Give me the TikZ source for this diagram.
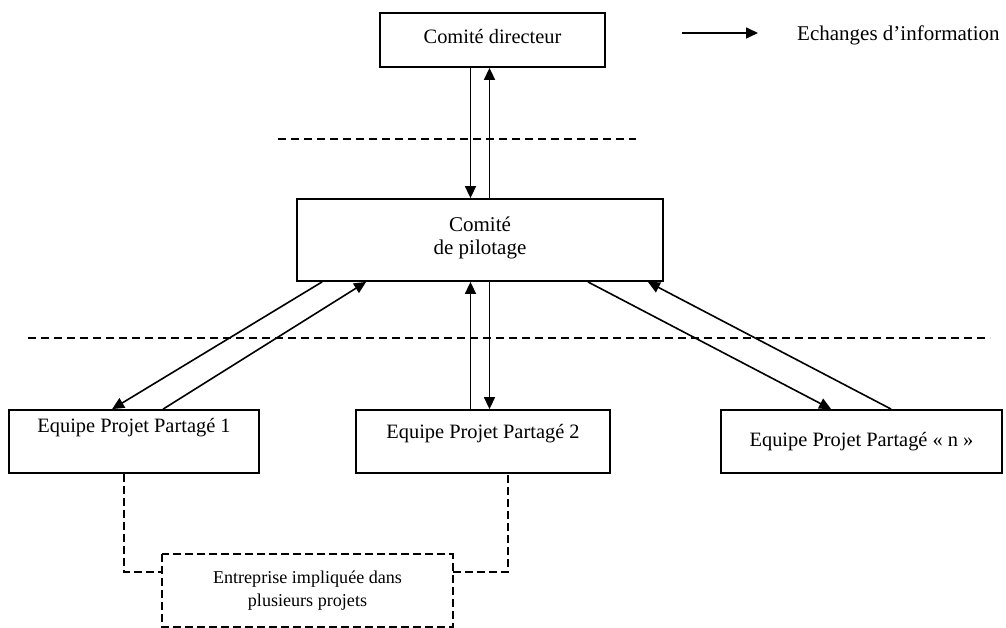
\documentclass[tikz,border=0pt]{standalone}
\usepackage{fontspec}
\setmainfont{Liberation Serif}
\usetikzlibrary{arrows.meta}
\begin{document}
\begin{tikzpicture}[
  x=1pt, y=-1pt,
  box/.style={draw, line width=1.8pt, inner sep=0pt, align=center, font=\fontsize{20.4}{24}\selectfont},
  flow/.style={line width=1.6pt, -{Triangle[length=12pt,width=11pt]}},
  sep/.style={line width=1.6pt, dash pattern=on 8pt off 5pt},
  link/.style={line width=1.6pt, dash pattern=on 8pt off 4pt}
]
  \useasboundingbox (0,0) rectangle (1006,628);

  \node[box, minimum width=225pt, minimum height=54pt, text depth=8pt] (dir) at (492.5,40) {Comité directeur};
  \node[box, minimum width=366pt, minimum height=82pt, text depth=9pt, font=\fontsize{21}{23.3}\selectfont] (pil) at (480,240) {Comité\\de pilotage};
  \node[box, minimum width=250pt, minimum height=63pt, text depth=33pt] (epp1) at (134,441.5) {Equipe Projet Partagé 1};
  \node[box, minimum width=254pt, minimum height=63pt, text depth=20pt] (epp2) at (483,441.5) {Equipe Projet Partagé 2};
  \node[box, minimum width=281pt, minimum height=63pt] (eppn) at (861.5,441.5) {Equipe Projet Partagé « n »};
  \node[box, draw=none, minimum width=289pt, minimum height=71pt, font=\fontsize{18.1}{22.5}\selectfont] (ent) at (307.5,590.5) {Entreprise impliquée dans\\plusieurs projets};
  \draw[link] (ent.north west) rectangle (ent.south east);

  \draw[sep] (278,139) -- (636,139);
  \draw[sep] (28,338) -- (990,338);

  \draw[flow] ([xshift=-9.5pt]pil.north |- dir.south) -- ([xshift=-9.5pt]pil.north);
  \draw[flow] ([xshift=9.5pt]pil.north) -- ([xshift=9.5pt]pil.north |- dir.south);

  \draw[flow] ([xshift=26pt]pil.south west) -- ([xshift=104pt]epp1.north west);
  \draw[flow] ([xshift=155pt]epp1.north west) -- ([xshift=70pt]pil.south west);
  \draw[flow] ([xshift=-9.5pt]pil.south |- epp2.north) -- ([xshift=-9.5pt]pil.south);
  \draw[flow] ([xshift=9.5pt]pil.south) -- ([xshift=9.5pt]pil.south |- epp2.north);
  \draw[flow] ([xshift=-76pt]pil.south east) -- ([xshift=111pt]eppn.north west);
  \draw[flow] ([xshift=171pt]eppn.north west) -- ([xshift=-16pt]pil.south east);

  \draw[link] ([xshift=116pt]epp1.south west) |- ([yshift=18.5pt]ent.west);
  \draw[link] ([yshift=18.5pt]ent.east) -| ([xshift=153pt]epp2.south west);

  \coordinate (legA) at (682,33);
  \coordinate (legB) at (758,33);
  \draw[flow] (legA) -- (legB);
  \node[anchor=base west, inner sep=0pt, font=\fontsize{21}{24}\selectfont] (legtxt) at (797,40.5) {Echanges d’information};
\end{tikzpicture}
\end{document}
